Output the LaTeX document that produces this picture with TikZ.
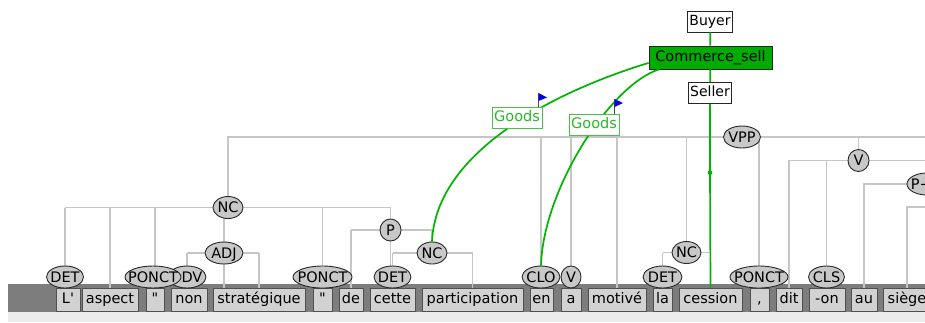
\documentclass[tikz,border=0pt]{standalone}
\usepackage{fontspec}
\setmainfont{DejaVu Sans}
\usetikzlibrary{shapes.geometric,backgrounds}
\definecolor{treeline}{RGB}{198,198,198}
\definecolor{tagfill}{RGB}{200,200,200}
\definecolor{boxfill}{RGB}{210,210,210}
\definecolor{boxline}{RGB}{80,80,80}
\definecolor{tagline}{RGB}{40,40,40}
\definecolor{bargray}{RGB}{125,125,125}
\definecolor{stripgray}{RGB}{236,236,236}
\definecolor{fegreen}{RGB}{0,180,0}
\definecolor{framegreen}{RGB}{0,172,0}
\definecolor{rolegreen}{RGB}{70,195,70}
\definecolor{roletext}{RGB}{40,185,40}
\definecolor{flagblue}{RGB}{0,0,235}
\newcommand\lbl{\fontsize{14.5pt}{17pt}\selectfont}
\newcommand\tagat[5]{\node[tagnode, minimum width=#4pt] (#1) at (#2,#3) {\makebox[0pt]{#5}};}
\newcommand\wordat[4]{\node[wordbox, minimum width=#3pt] (#1) at (#2,299.5) {#4};}
\begin{document}
\begin{tikzpicture}[x=1pt,y=-1pt,
  tree/.style={draw=treeline, line width=1.4pt},
  wordbox/.style={draw=boxline, fill=boxfill, line width=0.8pt, inner sep=0pt,
    minimum height=23pt, text height=10.5pt, text depth=3.5pt, font=\lbl},
  tagnode/.style={ellipse, draw=tagline, fill=tagfill, line width=0.9pt, inner sep=0pt,
    minimum height=22pt, text height=10.6pt, text depth=0pt, font=\lbl},
  taglabel/.style={inner sep=0pt, text height=10.6pt, text depth=0pt, font=\lbl},
  febox/.style={draw=black!85, fill=white, line width=0.8pt, inner xsep=2pt, inner ysep=0pt,
    minimum height=21pt, text height=10.5pt, text depth=3pt, font=\fontsize{14pt}{16pt}\selectfont},
  framebox/.style={draw=black!85, fill=framegreen, line width=0.8pt, inner xsep=3pt, inner ysep=0pt,
    minimum width=123pt, minimum height=23pt, text height=10.5pt, text depth=3pt, font=\lbl},
  rolebox/.style={draw=rolegreen, fill=white, text=roletext, line width=1pt, inner xsep=2pt, inner ysep=0pt,
    minimum width=50pt, minimum height=21pt, text height=10.5pt, text depth=3pt, font=\lbl},
  feline/.style={draw=fegreen, line width=1.7pt},
  flagpole/.style={draw=black!70, line width=0.9pt}
]
\useasboundingbox (0,0) rectangle (925,322);
\clip (0,0) rectangle (925,322);

% words
\wordat{w1}{68}{24}{L\textquotesingle}
\wordat{w2}{110}{56}{aspect}
\wordat{w3}{155}{18}{\textquotedbl}
\wordat{w4}{189}{36}{non}
\wordat{w5}{259}{92}{stratégique}
\wordat{w6}{322.5}{19}{\textquotedbl}
\wordat{w7}{351}{24}{de}
\wordat{w8}{392.5}{45}{cette}
\wordat{w9}{472.5}{101}{participation}
\wordat{w10}{541.5}{23}{en}
\wordat{w11}{571}{20}{a}
\wordat{w12}{617}{58}{motivé}
\wordat{w13}{662.5}{19}{la}
\wordat{w14}{710.5}{63}{cession}
\wordat{w15}{759.5}{19}{,}
\wordat{w16}{789}{26}{dit}
\wordat{w17}{827}{36}{-on}
\wordat{w18}{864}{26}{au}
\wordat{w19}{907}{48}{siège}

% POS tags (ADV lies partly under PONCT)
\node[tagnode, minimum width=38pt] (adv) at (187,277) {\makebox[0pt]{}};
\begin{scope}
  \clip (181.2,260) rectangle (215,295);
  \node[taglabel] (advtext) at (adv) {ADV};
\end{scope}
\tagat{det1}{65}{277}{37}{DET}
\tagat{pct1}{153}{277}{56}{PONCT}
\tagat{pct2}{322.5}{277}{59}{PONCT}
\tagat{det2}{392.5}{277}{37}{DET}
\tagat{clo}{541}{277}{38}{CLO}
\tagat{v1}{571}{277}{20}{V}
\tagat{det3}{662.5}{277}{39}{DET}
\tagat{pct3}{759}{277}{58}{PONCT}
\tagat{cls}{826.5}{277}{36}{CLS}

% phrase nodes
\tagat{nc1}{228}{207.5}{30}{NC}
\tagat{adj}{224}{253}{38}{ADJ}
\tagat{p}{390.5}{230}{21}{P}
\tagat{nc2}{432}{253}{30}{NC}
\tagat{nc3}{686.5}{252.5}{29}{NC}
\tagat{vpp}{742}{137}{37}{VPP}
\tagat{v2}{858.5}{160.5}{21}{V}
\tagat{pd}{927}{184}{40}{P+D}

\coordinate (topright) at (935,137);
\coordinate (v2right) at (935,160.5);
\coordinate (pdright) at (935,184);
\coordinate (sgright) at (935,207);

\begin{pgfonlayer}{background}
  \fill[bargray] (8,283.5) rectangle (925,312);
  \fill[stripgray] (8,312) rectangle (925,322);
  % top level
  \draw[tree] (nc1) |- (topright);
  \foreach \n in {clo,v1,w12,nc3,pct3,v2} \draw[tree] (\n) -- (\n |- topright);
  % NC1
  \draw[tree] (det1 |- nc1) -- (p |- nc1);
  \foreach \n in {det1,w2,w3,adj,w6,p} \draw[tree] (\n |- w1) -- (\n |- nc1);
  % ADJ
  \draw[tree] (adv |- adj) -- (w5 |- adj);
  \draw[tree] (adv) -- (adv |- adj);
  \draw[tree] (w5) -- (w5 |- adj);
  % P
  \draw[tree] (w7 |- p) -- (nc2 |- p);
  \draw[tree] (w7) -- (w7 |- p);
  \draw[tree] (nc2) -- (nc2 |- p);
  % NC2
  \draw[tree] (det2 |- nc2) -- (w9 |- nc2);
  \draw[tree] (det2) -- (det2 |- nc2);
  \draw[tree] (w9) -- (w9 |- nc2);
  % NC3
  \draw[tree] (det3 |- nc3) -- (w14 |- nc3);
  \draw[tree] (det3) -- (det3 |- nc3);
  % V
  \draw[tree] (w16) |- (v2right);
  \draw[tree] (cls) -- (cls |- v2right);
  % P+D
  \draw[tree] (w18) |- (pdright);
  \draw[tree] (w19) |- (sgright);
\end{pgfonlayer}

% frame
\node[framebox] (cs) at (710.5,57.5) {Commerce\_sell};
\node[febox] (buyer) at (710,21.5) {Buyer};
\node[febox] (seller) at (710,93) {Seller};
\coordinate (dot) at (710,172.7);
\draw[feline] (buyer) -- (cs);
\draw[feline] (cs) -- (seller);
\draw[feline] (seller) -- (dot) -- (w14.north);
\fill[fegreen] (dot) circle (2.4pt);

\draw[feline] (cs.185) .. controls (559,90) and (436,150) .. (nc2.north);
\draw[feline] (cs.193) .. controls (610,85) and (543,190) .. (clo.north);

\node[rolebox] (g1) at (517,118) {Goods};
\node[rolebox] (g2) at (594,125) {Goods};

\coordinate (f1) at ([xshift=-4pt]g1.north east);
\draw[flagpole] (f1) -- ++(0,-14);
\fill[flagblue] ([yshift=14pt]f1) -- ++(8.5,4.5) -- ++(-8.5,3.5) -- cycle;
\coordinate (f2) at ([xshift=-5pt]g2.north east);
\draw[flagpole] (f2) -- ++(0,-15);
\fill[flagblue] ([yshift=15pt]f2) -- ++(8.5,4) -- ++(-8.5,4) -- cycle;
\end{tikzpicture}
\end{document}
